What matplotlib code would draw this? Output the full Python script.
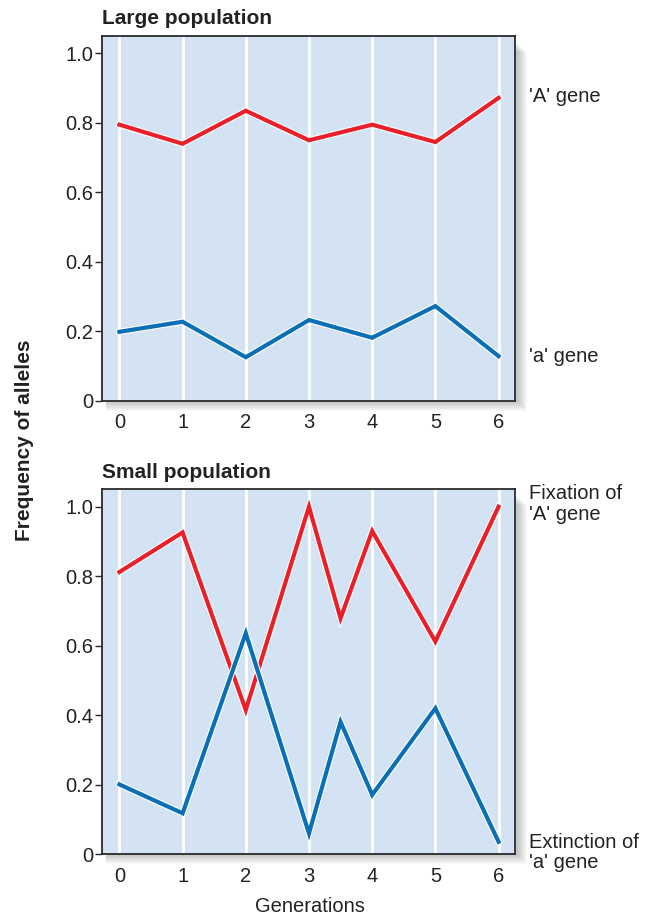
import matplotlib
matplotlib.use('Agg')
import matplotlib.pyplot as plt
import matplotlib.patheffects as pe
from matplotlib.patches import Rectangle

plt.rcParams['font.family'] = ['Liberation Sans', 'DejaVu Sans']

# ---- data ----
gens = [0, 1, 2, 3, 4, 5, 6]
large_A = [0.795, 0.74, 0.835, 0.75, 0.795, 0.745, 0.872]
large_a = [0.199, 0.228, 0.126, 0.233, 0.182, 0.273, 0.129]

small_gens = [0, 1, 2, 3, 3.5, 4, 5, 6]
small_A = [0.812, 0.926, 0.415, 1.0, 0.679, 0.93, 0.612, 1.0]
small_a = [0.201, 0.118, 0.636, 0.06, 0.381, 0.171, 0.42, 0.036]

yticks = [0, 0.2, 0.4, 0.6, 0.8, 1.0]
ytick_labels = ['0', '0.2', '0.4', '0.6', '0.8', '1.0']

RED = '#e8202a'
BLUE = '#0a6fb5'
BG = '#d4e3f3'
INK = '#222222'
FS = 14.5

W, H = 659, 915
fig = plt.figure(figsize=(W / 100, H / 100), dpi=100)


def panel(top_px, title, xs, ya, yb):
    left, right, bottom = 101.7, 515.0, top_px + 365
    rect = [left / W, 1 - bottom / H, (right - left) / W, (bottom - top_px) / H]
    # soft shadow right/bottom
    for i in range(10, 0, -1):
        fig.patches.append(Rectangle((rect[0] + 4 / W, rect[1] - i / H), rect[2] + (i - 2) / W, rect[3] - 6 / H,
                                     transform=fig.transFigure, facecolor='black',
                                     alpha=0.025, edgecolor='none', zorder=-1))
    ax = fig.add_axes(rect)
    ax.set_zorder(2)
    ax.set_facecolor(BG)
    ax.set_xlim(-0.28, 6.26)
    ax.set_ylim(0, 1.05)
    for g in gens:
        ax.axvline(g, color='white', lw=2.0, zorder=1)
    stroke = [pe.Stroke(linewidth=4.6, foreground='white'), pe.Normal()]
    ax.plot(xs, ya, color=RED, lw=3.0, zorder=3, solid_joinstyle='miter',
            path_effects=stroke)
    ax.plot(xs, yb, color=BLUE, lw=3.0, zorder=3, solid_joinstyle='miter',
            path_effects=stroke)
    for s in ax.spines.values():
        s.set_color('#2a2a2a')
        s.set_linewidth(1.3)
    ax.set_yticks(yticks)
    ax.set_yticklabels(ytick_labels)
    ax.set_xticks(gens)
    ax.set_xticklabels([str(g) for g in gens])
    ax.tick_params(axis='y', direction='out', length=5, width=1.0, color='#2a2a2a',
                   labelsize=FS, pad=1, labelcolor=INK)
    ax.tick_params(axis='x', length=0, labelsize=FS, pad=9, labelcolor=INK)
    fig.text(left / W, 1 - (top_px - 17) / H, title, fontsize=15, fontweight='bold',
             ha='left', va='center', color=INK)
    return ax


ax1 = panel(36, 'Large population', gens, large_A, large_a)
ax2 = panel(489.3, 'Small population', small_gens, small_A, small_a)

txt = dict(fontsize=FS, color=INK, ha='left', transform=fig.transFigure)
fig.text(529 / W, 1 - 97 / H, "'A' gene", va='center', **txt)
fig.text(529 / W, 1 - 356 / H, "'a' gene", va='center', **txt)
fig.text(529 / W, 1 - 484 / H, "Fixation of\n'A' gene", va='top', linespacing=1.1, **txt)
fig.text(529 / W, 1 - 872 / H, "Extinction of\n'a' gene", va='bottom', linespacing=1.1, **txt)

fig.text(25 / W, 1 - 440 / H, 'Frequency of alleles', rotation=90, fontsize=15,
         fontweight='bold', ha='center', va='center', color=INK)
fig.text(310 / W, 1 - 906 / H, 'Generations', fontsize=FS, ha='center', va='center',
         color=INK)

plt.savefig('out.png', dpi=100)
